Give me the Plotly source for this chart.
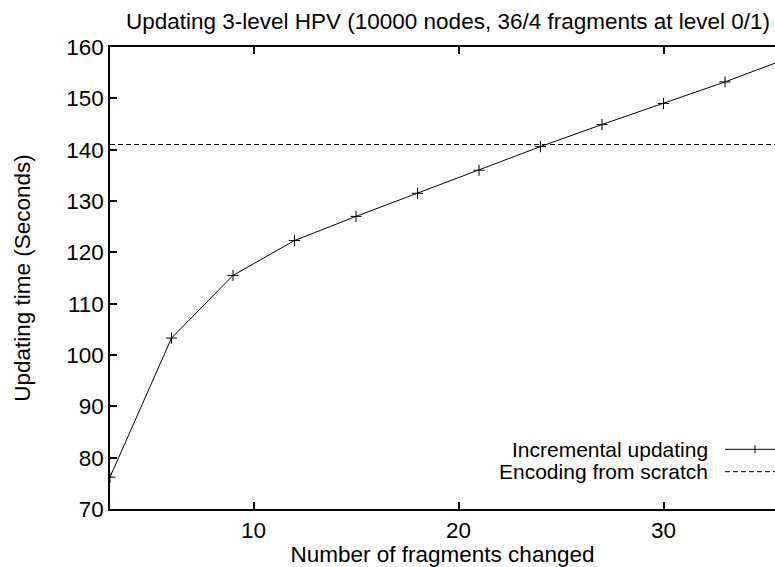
import plotly.graph_objects as go

fragments = [3, 6, 9, 12, 15, 18, 21, 24, 27, 30, 33, 36]
incremental = [76.2, 103.3, 115.5, 122.3, 127.0, 131.5, 136.0, 140.6, 144.9, 149.0, 153.2, 157.7]
scratch_x = [3, 36]
scratch_y = [141.0, 141.0]
y_ticks = [70, 80, 90, 100, 110, 120, 130, 140, 150, 160]
x_ticks = [10, 20, 30]

FONT = "Liberation Sans"
FS = 22.5
LFS = 21
W, H = 775, 567
L, R, T, B = 110, 0, 47, 58

fig = go.Figure()
fig.add_trace(go.Scatter(
    x=scratch_x, y=scratch_y, mode="lines",
    line=dict(color="black", width=1, dash="5px,3px"),
    showlegend=False, cliponaxis=True))
fig.add_trace(go.Scatter(
    x=fragments, y=incremental, mode="lines+markers",
    line=dict(color="black", width=1),
    marker=dict(symbol="cross-thin", size=8, color="black",
                line=dict(color="black", width=1)),
    showlegend=False, cliponaxis=True))

pw = W - L - R
ph = H - T - B

def px(xp):
    return (xp - L) / pw

def py(yp):
    return (H - B - yp) / ph

shapes = []
y1, y2 = 449.3, 471.7
shapes.append(dict(type="line", xref="paper", yref="paper",
                   x0=px(725), x1=px(790), y0=py(y1), y1=py(y1),
                   line=dict(color="black", width=1)))
shapes.append(dict(type="line", xref="paper", yref="paper",
                   x0=px(755), x1=px(755), y0=py(y1 - 4), y1=py(y1 + 4),
                   line=dict(color="black", width=1)))
shapes.append(dict(type="line", xref="paper", yref="paper",
                   x0=px(725), x1=px(790), y0=py(y2), y1=py(y2),
                   line=dict(color="black", width=1, dash="5px,3px")))

annotations = [
    dict(text="Incremental updating", xref="paper", yref="paper",
         x=px(710), y=py(y1), xanchor="right", yanchor="middle",
         showarrow=False, font=dict(family=FONT, size=LFS, color="black")),
    dict(text="Encoding from scratch", xref="paper", yref="paper",
         x=px(710), y=py(y2), xanchor="right", yanchor="middle",
         showarrow=False, font=dict(family=FONT, size=LFS, color="black")),
]

fig.update_layout(
    width=W, height=H,
    margin=dict(l=L, r=R, t=T, b=B, pad=0, autoexpand=False),
    paper_bgcolor="white", plot_bgcolor="white",
    font=dict(family=FONT, size=FS, color="black"),
    title=dict(text="Updating 3-level HPV (10000 nodes, 36/4 fragments at level 0/1)",
               x=448 / W, xref="container", xanchor="center",
               y=1 - 21 / H, yref="container", yanchor="middle",
               font=dict(family=FONT, size=FS, color="black"), automargin=False),
    shapes=shapes,
    annotations=annotations,
    showlegend=False,
)
fig.update_xaxes(
    range=[3, 3 + pw / 20.5], tickvals=x_ticks, ticks="inside", ticklen=7,
    tickcolor="black", tickwidth=1.5, showline=True, linecolor="black", linewidth=1.5,
    mirror="ticks", showgrid=False, zeroline=False, automargin=False,
    title=dict(text="Number of fragments changed", standoff=2,
               font=dict(family=FONT, size=FS)),
    tickfont=dict(family=FONT, size=FS),
)
fig.update_yaxes(
    range=[70, 160], tickvals=y_ticks, ticks="inside", ticklen=7,
    tickcolor="black", tickwidth=1.5, showline=True, linecolor="black", linewidth=1.5,
    mirror=False, showgrid=False, zeroline=False, automargin=False,
    title=dict(text="Updating time (Seconds)", standoff=29,
               font=dict(family=FONT, size=FS)),
    tickfont=dict(family=FONT, size=FS),
)

fig.write_html("out.html", config={"displayModeBar": False},
               post_script="document.body.style.margin='0';document.body.style.overflow='hidden';")
